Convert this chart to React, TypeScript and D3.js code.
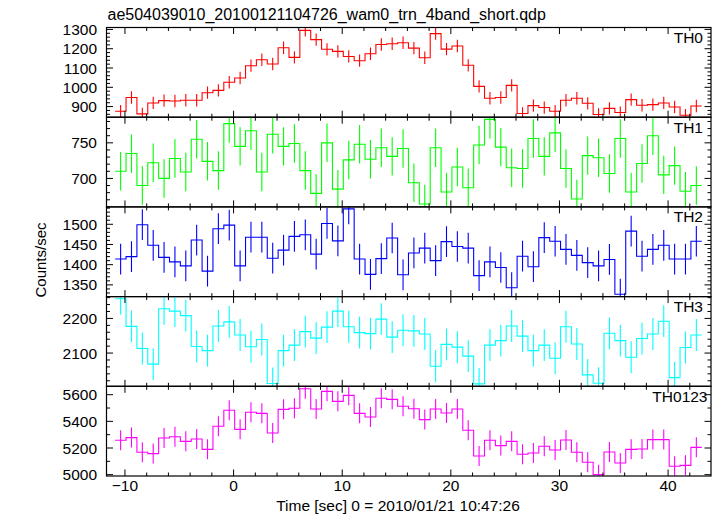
import React from "react";
import * as d3 from "d3";

const times = [
  -10.4, -9.4, -8.4, -7.4, -6.4, -5.4, -4.4, -3.4, -2.4, -1.4,
  -0.4, 0.6, 1.6, 2.6, 3.6, 4.6, 5.6, 6.6, 7.6, 8.6,
  9.6, 10.6, 11.6, 12.6, 13.6, 14.6, 15.6, 16.6, 17.6, 18.6,
  19.6, 20.6, 21.6, 22.6, 23.6, 24.6, 25.6, 26.6, 27.6, 28.6,
  29.6, 30.6, 31.6, 32.6, 33.6, 34.6, 35.6, 36.6, 37.6, 38.6,
  39.6, 40.6, 41.6, 42.6,
];

const th0 = [
  876, 947, 862, 919, 931, 929, 933, 933, 972, 984,
  1026, 1048, 1112, 1143, 1121, 1205, 1155, 1295, 1247, 1197,
  1186, 1160, 1138, 1174, 1222, 1226, 1231, 1203, 1153, 1278,
  1198, 1214, 1114, 1005, 943, 947, 1010, 864, 905, 895,
  876, 933, 943, 917, 859, 891, 869, 936, 907, 910,
  919, 898, 855, 903,
];
const th1 = [
  710, 735, 690, 722, 700, 728, 709, 755, 724, 711,
  777, 745, 767, 709, 762, 745, 749, 711, 679, 750,
  685, 726, 748, 727, 743, 731, 742, 694, 664, 743,
  681, 716, 687, 747, 783, 744, 715, 714, 756, 731,
  764, 714, 671, 732, 729, 707, 756, 681, 721, 760,
  705, 718, 682, 690,
];
const th2 = [
  1414, 1420, 1499, 1448, 1418, 1407, 1397, 1461, 1384, 1489,
  1498, 1397, 1468, 1468, 1416, 1436, 1470, 1474, 1426, 1502,
  1459, 1538, 1414, 1376, 1415, 1466, 1375, 1429, 1441, 1410,
  1457, 1445, 1441, 1373, 1407, 1393, 1343, 1421, 1395, 1467,
  1458, 1438, 1423, 1405, 1397, 1413, 1327, 1483, 1421, 1438,
  1448, 1414, 1414, 1458,
];
const th3 = [
  2257, 2177, 2113, 2068, 2228, 2221, 2208, 2119, 2107, 2178,
  2190, 2152, 2118, 2139, 2012, 2107, 2123, 2162, 2143, 2175,
  2221, 2176, 2159, 2156, 2198, 2146, 2166, 2164, 2155, 2062,
  2125, 2117, 2091, 2011, 2123, 2136, 2178, 2149, 2107, 2123,
  2085, 2176, 2126, 2037, 2013, 2157, 2136, 2088, 2142, 2155,
  2192, 2029, 2116, 2152,
];
const th0123 = [
  5258, 5278, 5168, 5158, 5275, 5285, 5250, 5268, 5190, 5363,
  5483, 5340, 5468, 5460, 5313, 5490, 5498, 5645, 5493, 5625,
  5550, 5595, 5460, 5433, 5573, 5565, 5513, 5495, 5413, 5493,
  5463, 5493, 5333, 5140, 5258, 5218, 5250, 5153, 5163, 5213,
  5185, 5260, 5168, 5093, 5000, 5170, 5088, 5190, 5193, 5263,
  5263, 5063, 5070, 5205,
];

const panelNames = ["TH0", "TH1", "TH2", "TH3", "TH0123"];
const panelErrors = [32, 27, 38, 46, 75];
const panelDomains: [number, number][] = [
  [845, 1310],
  [660, 786],
  [1321, 1543],
  [2004, 2263],
  [4990, 5663],
];
const panelTicks = [
  [900, 1000, 1100, 1200, 1300],
  [700, 750],
  [1350, 1400, 1450, 1500],
  [2100, 2200],
  [5000, 5200, 5400, 5600],
];
const panelMinorStep = [20, 10, 10, 20, 100];
const panelColors = ["#ff0000", "#00ff00", "#0000ff", "#00ffff", "#ff00ff"];
const xTicks = [-10, 0, 10, 20, 30, 40];

const titleText = "ae504039010_20100121104726_wam0_trn_4band_short.qdp";
const xLabel = "Time [sec] 0 = 2010/01/21 10:47:26";
const yLabel = "Counts/sec";

const W = 717;
const H = 516;
const left = 106.5;
const right = 711;
const top = 27.5;
const bottom = 476;
const FONT = "'Liberation Sans', Arial, Helvetica, sans-serif";

export default function App() {
  const series = [th0, th1, th2, th3, th0123];
  const x = d3.scaleLinear().domain([-11.7, 43.95]).range([left, right]);
  const ph = (bottom - top) / 5;
  const binW = 1;
  const majorLen = 6.5;
  const minorLen = 3.5;
  const xMinor = d3.range(-10, 44, 2);

  return (
    <svg
      width={W}
      height={H}
      style={{ position: "absolute", left: 0, top: 0, display: "block", background: "#fff" }}
      fontFamily={FONT}
    >
      <defs>
        {series.map((_, p) => (
          <clipPath id={`clip${p}`} key={p}>
            <rect x={left} y={top + p * ph} width={right - left} height={ph} />
          </clipPath>
        ))}
      </defs>
      <text x={107.5} y={20} fontSize={16} fill="#000">
        {titleText}
      </text>
      {series.map((vals, p) => {
        const y0 = top + p * ph;
        const y1 = y0 + ph;
        const y = d3.scaleLinear().domain(panelDomains[p]).range([y1, y0]);
        const pts: [number, number][] = [];
        vals.forEach((v, i) => {
          pts.push([x(times[i] - binW / 2), y(v)]);
          pts.push([x(times[i] + binW / 2), y(v)]);
        });
        const line = d3.line()(pts) || "";
        const err = panelErrors[p];
        const [dmin, dmax] = panelDomains[p];
        const minorVals = d3
          .range(Math.ceil(dmin / panelMinorStep[p]) * panelMinorStep[p], dmax, panelMinorStep[p])
          .filter((v) => !panelTicks[p].includes(v));
        return (
          <g key={p}>
            <g clipPath={`url(#clip${p})`}>
              <path d={line} fill="none" stroke={panelColors[p]} strokeWidth={1.1} />
              {vals.map((v, i) => (
                <line
                  key={i}
                  x1={x(times[i])}
                  x2={x(times[i])}
                  y1={y(v - err)}
                  y2={y(v + err)}
                  stroke={panelColors[p]}
                  strokeWidth={1.1}
                />
              ))}
            </g>
            <rect x={left} y={y0} width={right - left} height={ph} fill="none" stroke="#000" strokeWidth={1.2} />
            {xTicks.map((t) => (
              <g key={`xt${t}`}>
                <line x1={x(t)} x2={x(t)} y1={y1} y2={y1 - majorLen} stroke="#000" />
                <line x1={x(t)} x2={x(t)} y1={y0} y2={y0 + majorLen} stroke="#000" />
              </g>
            ))}
            {xMinor
              .filter((t) => !xTicks.includes(t))
              .map((t) => (
                <g key={`xm${t}`}>
                  <line x1={x(t)} x2={x(t)} y1={y1} y2={y1 - minorLen} stroke="#000" />
                  <line x1={x(t)} x2={x(t)} y1={y0} y2={y0 + minorLen} stroke="#000" />
                </g>
              ))}
            {panelTicks[p].map((t) => (
              <g key={`yt${t}`}>
                <line x1={left} x2={left + majorLen} y1={y(t)} y2={y(t)} stroke="#000" />
                <line x1={right} x2={right - majorLen} y1={y(t)} y2={y(t)} stroke="#000" />
                <text x={97} y={y(t)} dy="0.36em" textAnchor="end" fontSize={15.5} fill="#000">
                  {t}
                </text>
              </g>
            ))}
            {minorVals.map((t) => (
              <g key={`ym${t}`}>
                <line x1={left} x2={left + minorLen} y1={y(t)} y2={y(t)} stroke="#000" />
                <line x1={right} x2={right - minorLen} y1={y(t)} y2={y(t)} stroke="#000" />
              </g>
            ))}
            <text
              x={p === 4 ? 707.5 : 703}
              y={y0 + 15.5}
              textAnchor="end"
              fontSize={15.5}
              fill="#000"
            >
              {panelNames[p]}
            </text>
          </g>
        );
      })}
      {xTicks.map((t) => (
        <text key={`xl${t}`} x={x(t)} y={491} textAnchor="middle" fontSize={15.5} fill="#000">
          {t === -10 ? "\u221210" : t}
        </text>
      ))}
      <text x={398} y={511} textAnchor="middle" fontSize={15.5} fill="#000">
        {xLabel}
      </text>
      <text transform="translate(46,260) rotate(-90)" textAnchor="middle" fontSize={15} fill="#000">
        {yLabel}
      </text>
    </svg>
  );
}
